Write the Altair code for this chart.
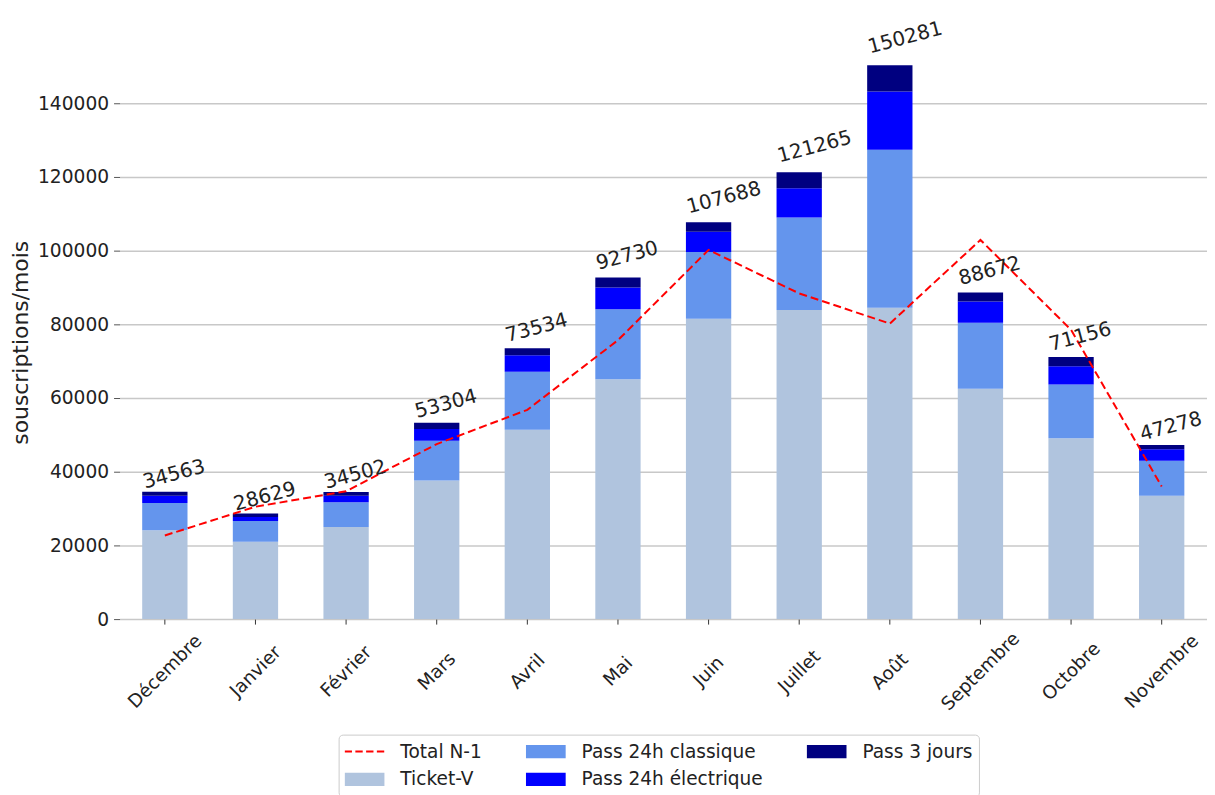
import altair as alt
import pandas as pd

months = ["Décembre", "Janvier", "Février", "Mars", "Avril", "Mai", "Juin",
          "Juillet", "Août", "Septembre", "Octobre", "Novembre"]
ticket_v = [24100, 21000, 25000, 37600, 51400, 65100, 81500, 83900, 84500, 62500, 49100, 33500]
pass24_classique = [7400, 5600, 6700, 10800, 15700, 19000, 18100, 25100, 42900, 17900, 14600, 9500]
pass24_electrique = [2000, 1100, 1800, 3200, 4500, 5900, 5500, 7900, 15800, 5800, 4900, 3100]
pass3_jours = [1063, 929, 1002, 1704, 1934, 2730, 2588, 4365, 7081, 2472, 2556, 1178]
totals = [34563, 28629, 34502, 53304, 73534, 92730, 107688, 121265, 150281, 88672, 71156, 47278]
total_n1 = [22700, 30500, 34700, 47500, 56800, 75700, 100200, 88400, 80200, 102900, 78500, 36000]

series_names = ["Ticket-V", "Pass 24h classique", "Pass 24h électrique", "Pass 3 jours"]
series_values = [ticket_v, pass24_classique, pass24_electrique, pass3_jours]

rows = []
for k, (name, vals) in enumerate(zip(series_names, series_values)):
    for m, v in zip(months, vals):
        rows.append({"month": m, "series": name, "value": v, "order": k})
bars_df = pd.DataFrame(rows)
tot_df = pd.DataFrame({"month": months, "total": totals, "n1": total_n1})

legend_domain = ["Total N-1", "Ticket-V", "Pass 24h classique", "Pass 24h électrique", "Pass 3 jours"]
legend_range = ["#FF0000", "#B0C4DE", "#6495ED", "#0000FF", "#000080"]

FONT = "DejaVu Sans"
dash_path = ("M-1,-0.05H-0.63V0.05H-1Z M-0.46,-0.05H-0.09V0.05H-0.46Z "
             "M0.08,-0.05H0.45V0.05H0.08Z M0.62,-0.05H0.99V0.05H0.62Z")
rect_path = "M-1,-0.333H1V0.333H-1Z"
shape_expr = f"datum.value == 'Total N-1' ? '{dash_path}' : '{rect_path}'"

x_enc = alt.X("month:N", sort=months,
              scale=alt.Scale(paddingInner=0.5, paddingOuter=0.25),
              axis=alt.Axis(title=None, labelAngle=315, labelAlign="center",
                            labelBaseline="middle", labelPadding=47, tickSize=5,
                            tickColor="#333333", domain=False, labelFontSize=18.5,
                            labelFont=FONT, labelColor="#222222", grid=False))

y_scale = alt.Scale(domain=[0, 157838], nice=False, zero=True)

bars = alt.Chart(bars_df).mark_bar(size=45.5).encode(
    x=x_enc,
    y=alt.Y("value:Q", stack="zero", scale=y_scale,
            axis=alt.Axis(title="souscriptions/mois", values=list(range(0, 140001, 20000)),
                          format="d", labelFontSize=18.7, labelFont=FONT, labelColor="#222222",
                          tickSize=6, tickColor="#555555", labelPadding=5, domain=False,
                          grid=True, gridColor="#c8c8c8", gridWidth=1.5,
                          titleFontSize=22, titleFont=FONT, titleFontWeight="normal",
                          titleColor="#222222", titlePadding=5, titleY=306)),
    color=alt.Color("series:N", scale=alt.Scale(domain=legend_domain, range=legend_range),
                    legend=alt.Legend(title=None, orient="none", legendX=220, legendY=700,
                                      columns=3, columnPadding=44, rowPadding=6,
                                      clipHeight=22,
                                      labelOffset=16, labelFontSize=18.6, labelFont=FONT,
                                      labelColor="#222222", labelLimit=400, symbolSize=1600,
                                      symbolType={"expr": shape_expr},
                                      symbolStrokeWidth=0, strokeColor="#cccccc",
                                      fillColor="white", padding=6, cornerRadius=4)),
    order=alt.Order("order:Q"),
)

line = alt.Chart(tot_df).mark_line(color="#FF0000", strokeDash=[8, 4], strokeWidth=2).encode(
    x=alt.X("month:N", sort=months),
    y=alt.Y("n1:Q"),
)

labels = alt.Chart(tot_df).transform_calculate(
    ly="datum.total * 1.02"
).mark_text(align="left", baseline="alphabetic", angle=345, dx=3, fontSize=20,
            font=FONT, color="#222222").encode(
    x=alt.X("month:N", sort=months, bandPosition=0),
    y=alt.Y("ly:Q"),
    text=alt.Text("total:Q", format="d"),
)

chart = alt.layer(bars, line, labels).properties(
    width=1092, height=584,
    autosize=alt.AutoSizeParams(type="none"),
    padding={"left": 112, "top": 28, "right": 0, "bottom": 180},
).configure_view(strokeWidth=0)

chart.save("out.html", embed_options={"renderer": "svg", "actions": False})
